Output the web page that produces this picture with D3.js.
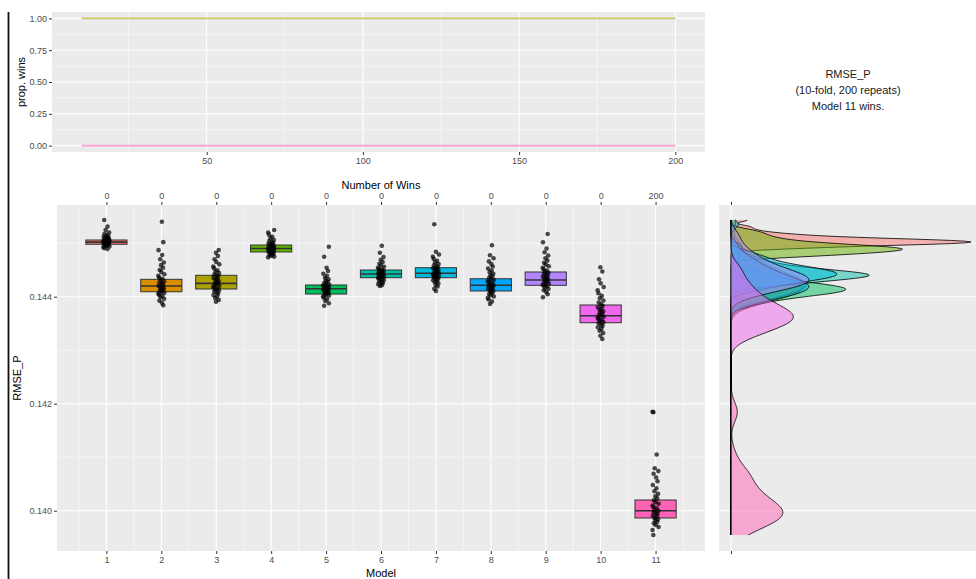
<!DOCTYPE html>
<html>
<head>
<meta charset="utf-8">
<script src="https://cdnjs.cloudflare.com/ajax/libs/d3/7.8.5/d3.min.js"></script>
<style>
body { margin: 0; background: #fff; }
svg { display: block; font-family: "Liberation Sans", Arial, sans-serif; }
</style>
</head>
<body>
<div id="chart"></div>
<script>
// ---- data ----
var models = [1, 2, 3, 4, 5, 6, 7, 8, 9, 10, 11];
var winCounts = [0, 0, 0, 0, 0, 0, 0, 0, 0, 0, 200];
var modelColors = ["#F8766D", "#DB8E00", "#AEA200", "#64B200", "#00BD5C", "#00C1A7",
                   "#00BADE", "#00A6FF", "#B385FF", "#EF67EB", "#FF63B6"];

// box stats (lower hinge, median, upper hinge)
var boxQ1  = [0.14498, 0.144093, 0.144144, 0.144836, 0.14405, 0.144355, 0.144355, 0.144107, 0.144213, 0.143514, 0.139864];
var boxMed = [0.14502, 0.1442, 0.14425, 0.144901, 0.14415, 0.144424, 0.144437, 0.144213, 0.144312, 0.143645, 0.140];
var boxQ3  = [0.14506, 0.144325, 0.1444, 0.144966, 0.144219, 0.144499, 0.144542, 0.144336, 0.144462, 0.143845, 0.1402];

// repeat-level RMSE_P values (estimated from the jittered points)
var rmse1 = [0.145434, 0.145310, 0.145245, 0.145198, 0.145170, 0.145152, 0.145131, 0.145118, 0.145102, 0.145094, 0.145083, 0.145076,
  0.145068, 0.145061, 0.145057, 0.145049, 0.145044, 0.145038, 0.145033, 0.145027, 0.145021, 0.145018, 0.145012, 0.145006,
  0.145001, 0.144996, 0.144991, 0.144985, 0.144979, 0.144972, 0.144963, 0.144951, 0.144940, 0.144926, 0.144908, 0.144893];
var rmse2 = [0.145400, 0.145020, 0.144870, 0.144780, 0.144700, 0.144640, 0.144590, 0.144540, 0.144500, 0.144460, 0.144420, 0.144390,
  0.144360, 0.144335, 0.144310, 0.144290, 0.144265, 0.144245, 0.144225, 0.144205, 0.144190, 0.144172, 0.144155, 0.144138,
  0.144120, 0.144105, 0.144090, 0.144072, 0.144055, 0.144035, 0.144012, 0.143990, 0.143960, 0.143925, 0.143885, 0.143840];
var rmse3 = [0.144873, 0.144820, 0.144760, 0.144700, 0.144650, 0.144605, 0.144565, 0.144530, 0.144495, 0.144465, 0.144440, 0.144415,
  0.144395, 0.144375, 0.144352, 0.144330, 0.144310, 0.144292, 0.144272, 0.144255, 0.144238, 0.144220, 0.144203, 0.144185,
  0.144168, 0.144150, 0.144135, 0.144118, 0.144098, 0.144078, 0.144055, 0.144030, 0.144005, 0.143975, 0.143940, 0.143907];
var rmse4 = [0.145247, 0.145200, 0.145160, 0.145120, 0.145090, 0.145060, 0.145038, 0.145018, 0.145000, 0.144985, 0.144972, 0.144962,
  0.144952, 0.144943, 0.144934, 0.144926, 0.144918, 0.144910, 0.144903, 0.144896, 0.144889, 0.144881, 0.144873, 0.144865,
  0.144858, 0.144850, 0.144842, 0.144834, 0.144825, 0.144815, 0.144804, 0.144792, 0.144778, 0.144764, 0.144750, 0.144736];
var rmse5 = [0.144935, 0.144748, 0.144540, 0.144480, 0.144430, 0.144390, 0.144355, 0.144325, 0.144300, 0.144280, 0.144260, 0.144242,
  0.144226, 0.144212, 0.144200, 0.144188, 0.144176, 0.144165, 0.144155, 0.144145, 0.144135, 0.144124, 0.144113, 0.144102,
  0.144090, 0.144078, 0.144065, 0.144052, 0.144038, 0.144022, 0.144004, 0.143982, 0.143955, 0.143920, 0.143878, 0.143832];
var rmse6 = [0.144953, 0.144822, 0.144740, 0.144690, 0.144650, 0.144615, 0.144585, 0.144560, 0.144540, 0.144522, 0.144506, 0.144492,
  0.144479, 0.144467, 0.144456, 0.144446, 0.144436, 0.144427, 0.144418, 0.144409, 0.144400, 0.144391, 0.144382, 0.144373,
  0.144364, 0.144355, 0.144345, 0.144334, 0.144322, 0.144308, 0.144292, 0.144274, 0.144255, 0.144235, 0.144215, 0.144200];
var rmse7 = [0.145353, 0.144841, 0.144790, 0.144745, 0.144705, 0.144670, 0.144640, 0.144612, 0.144588, 0.144566, 0.144548, 0.144532,
  0.144516, 0.144502, 0.144489, 0.144476, 0.144463, 0.144450, 0.144438, 0.144426, 0.144414, 0.144402, 0.144390, 0.144378,
  0.144366, 0.144354, 0.144340, 0.144325, 0.144308, 0.144290, 0.144270, 0.144247, 0.144220, 0.144190, 0.144150, 0.144107];
var rmse8 = [0.144961, 0.144774, 0.144720, 0.144660, 0.144610, 0.144565, 0.144525, 0.144490, 0.144458, 0.144428, 0.144400, 0.144375,
  0.144352, 0.144330, 0.144310, 0.144290, 0.144272, 0.144254, 0.144236, 0.144219, 0.144203, 0.144187, 0.144171, 0.144155,
  0.144139, 0.144123, 0.144106, 0.144088, 0.144070, 0.144050, 0.144028, 0.144004, 0.143978, 0.143948, 0.143910, 0.143864];
var rmse9 = [0.145172, 0.145017, 0.144900, 0.144830, 0.144770, 0.144720, 0.144675, 0.144635, 0.144600, 0.144568, 0.144540, 0.144514,
  0.144490, 0.144468, 0.144447, 0.144427, 0.144408, 0.144390, 0.144372, 0.144355, 0.144338, 0.144322, 0.144306, 0.144290,
  0.144274, 0.144258, 0.144242, 0.144225, 0.144208, 0.144190, 0.144170, 0.144147, 0.144120, 0.144088, 0.144045, 0.143989];
var rmse10 = [0.144550, 0.144470, 0.144325, 0.144250, 0.144180, 0.144120, 0.144065, 0.144015, 0.143970, 0.143930, 0.143893, 0.143860,
  0.143830, 0.143802, 0.143776, 0.143752, 0.143729, 0.143707, 0.143686, 0.143665, 0.143645, 0.143625, 0.143605, 0.143585,
  0.143565, 0.143545, 0.143524, 0.143502, 0.143479, 0.143455, 0.143428, 0.143398, 0.143364, 0.143322, 0.143270, 0.143209];
var rmse11 = [0.141849, 0.141840, 0.141052, 0.140793, 0.140740, 0.140690, 0.140620, 0.140550, 0.140480, 0.140420, 0.140365, 0.140315,
  0.140270, 0.140230, 0.140195, 0.140160, 0.140128, 0.140098, 0.140070, 0.140044, 0.140020, 0.139998, 0.139976, 0.139954,
  0.139932, 0.139910, 0.139888, 0.139865, 0.139842, 0.139818, 0.139792, 0.139764, 0.139732, 0.139696, 0.139640, 0.139546];
var rmseByModel = [rmse1, rmse2, rmse3, rmse4, rmse5, rmse6, rmse7, rmse8, rmse9, rmse10, rmse11];

// cumulative proportion of wins vs. number of repeats
var repeats = [10, 20, 30, 40, 50, 60, 70, 80, 90, 100, 110, 120, 130, 140, 150, 160, 170, 180, 190, 200];
var propWinner = [1, 1, 1, 1, 1, 1, 1, 1, 1, 1, 1, 1, 1, 1, 1, 1, 1, 1, 1, 1];
var propOthers = [0, 0, 0, 0, 0, 0, 0, 0, 0, 0, 0, 0, 0, 0, 0, 0, 0, 0, 0, 0];

var noteLines = ["RMSE_P", "(10-fold, 200 repeats)", "Model 11 wins."];

// horizontal jitter pattern (model units), cycled over the points
var jitter = [-0.04, 0.02, -0.015, 0.05, -0.035, 0.01, 0.035, -0.05, 0.015, -0.02, 0.045, -0.005, 0.03, -0.03, 0.0, 0.055, -0.055];

// ---- layout ----
var W = 976, H = 579;
var panelBg = "#EBEBEB";
var tickCol = "#333333", labCol = "#4D4D4D";

var svg = d3.select("#chart").append("svg")
    .attr("width", W)
    .attr("height", H);

// black rule at the left edge of the figure
svg.append("line")
    .attr("x1", 8.5).attr("x2", 8.5)
    .attr("y1", 12).attr("y2", H)
    .attr("stroke", "#111").attr("stroke-width", 1.8);

function styleAxis(g) {
  g.select(".domain").remove();
  g.selectAll(".tick line").attr("stroke", tickCol).attr("stroke-width", 1);
  g.selectAll(".tick text").attr("fill", labCol).style("font-size", "9px");
}

// ---- top panel: proportion of wins ----
var xt = d3.scaleLinear().domain([0.5, 209.5]).range([52, 705]);
var yt = d3.scaleLinear().domain([-0.05, 1.05]).range([152, 12]);

var winsPanel = svg.append("g").attr("id", "wins_panel");
winsPanel.append("rect")
    .attr("x", 52).attr("y", 12)
    .attr("width", 705 - 52).attr("height", 140)
    .attr("fill", panelBg);

[25, 75, 125, 175].forEach(function(v) {
  winsPanel.append("line").attr("x1", xt(v)).attr("x2", xt(v)).attr("y1", 12).attr("y2", 152)
     .attr("stroke", "#fff").attr("stroke-width", 0.5);
});
[0.125, 0.375, 0.625, 0.875].forEach(function(v) {
  winsPanel.append("line").attr("x1", 52).attr("x2", 705).attr("y1", yt(v)).attr("y2", yt(v))
     .attr("stroke", "#fff").attr("stroke-width", 0.5);
});
[50, 100, 150, 200].forEach(function(v) {
  winsPanel.append("line").attr("x1", xt(v)).attr("x2", xt(v)).attr("y1", 12).attr("y2", 152)
     .attr("stroke", "#fff").attr("stroke-width", 1.1);
});
[0, 0.25, 0.5, 0.75, 1].forEach(function(v) {
  winsPanel.append("line").attr("x1", 52).attr("x2", 705).attr("y1", yt(v)).attr("y2", yt(v))
     .attr("stroke", "#fff").attr("stroke-width", 1.1);
});

var winLine = d3.line()
    .x(function(d) { return xt(d[0]); })
    .y(function(d) { return yt(d[1]); });

winsPanel.append("path")
    .datum(d3.zip(repeats, propOthers))
    .attr("d", winLine)
    .attr("fill", "none").attr("stroke", "#FF63B6").attr("stroke-opacity", 0.6).attr("stroke-width", 1.6);
winsPanel.append("path")
    .datum(d3.zip(repeats, propWinner))
    .attr("d", winLine)
    .attr("fill", "none").attr("stroke", "#AEA200").attr("stroke-opacity", 0.6).attr("stroke-width", 1.6);

winsPanel.append("g")
    .attr("transform", "translate(0,152)")
    .call(d3.axisBottom(xt).tickValues([50, 100, 150, 200]).tickSize(3).tickPadding(3))
    .call(styleAxis);
winsPanel.append("g")
    .attr("transform", "translate(52,0)")
    .call(d3.axisLeft(yt).tickValues([0, 0.25, 0.5, 0.75, 1]).tickFormat(d3.format(".2f")).tickSize(3).tickPadding(2))
    .call(styleAxis);

winsPanel.append("text")
    .attr("transform", "translate(25,82) rotate(-90)")
    .attr("text-anchor", "middle")
    .style("font-size", "11px")
    .attr("fill", "#000")
    .text("prop. wins");

// note in the top right corner
svg.append("g").attr("id", "note")
  .selectAll("text")
  .data(noteLines)
  .enter()
  .append("text")
    .attr("x", 848)
    .attr("y", function(d, i) { return 78 + i * 16; })
    .attr("text-anchor", "middle")
    .style("font-size", "11px")
    .attr("fill", "#1a1a1a")
    .text(function(d) { return d; });

// ---- main panel: box plots ----
var x = d3.scaleLinear().domain([0.1, 11.9]).range([57, 705]);
var y = d3.scaleLinear().domain([0.139247, 0.145714]).range([551, 205]);

var main = svg.append("g").attr("id", "box_panel");
main.append("rect")
    .attr("x", 57).attr("y", 205)
    .attr("width", 705 - 57).attr("height", 551 - 205)
    .attr("fill", panelBg);

models.forEach(function(m) {
  main.append("line").attr("x1", x(m - 0.5)).attr("x2", x(m - 0.5)).attr("y1", 205).attr("y2", 551)
      .attr("stroke", "#fff").attr("stroke-width", 0.5);
});
main.append("line").attr("x1", x(11.5)).attr("x2", x(11.5)).attr("y1", 205).attr("y2", 551)
    .attr("stroke", "#fff").attr("stroke-width", 0.5);
[0.141, 0.143, 0.145].forEach(function(v) {
  main.append("line").attr("x1", 57).attr("x2", 705).attr("y1", y(v)).attr("y2", y(v))
      .attr("stroke", "#fff").attr("stroke-width", 0.5);
});
models.forEach(function(m) {
  main.append("line").attr("x1", x(m)).attr("x2", x(m)).attr("y1", 205).attr("y2", 551)
      .attr("stroke", "#fff").attr("stroke-width", 1.1);
});
[0.140, 0.142, 0.144].forEach(function(v) {
  main.append("line").attr("x1", 57).attr("x2", 705).attr("y1", y(v)).attr("y2", y(v))
      .attr("stroke", "#fff").attr("stroke-width", 1.1);
});

var boxW = 0.75;
var boxes = main.append("g").selectAll("g")
    .data(models)
    .enter()
    .append("g");

boxes.append("rect")
    .attr("x", function(m) { return x(m - boxW / 2); })
    .attr("width", function(m) { return x(m + boxW / 2) - x(m - boxW / 2); })
    .attr("y", function(m, i) { return y(boxQ3[i]); })
    .attr("height", function(m, i) { return y(boxQ1[i]) - y(boxQ3[i]); })
    .attr("fill", function(m, i) { return modelColors[i]; })
    .attr("stroke", "#333").attr("stroke-width", 1);

boxes.append("line")
    .attr("x1", function(m) { return x(m - boxW / 2); })
    .attr("x2", function(m) { return x(m + boxW / 2); })
    .attr("y1", function(m, i) { return y(boxMed[i]); })
    .attr("y2", function(m, i) { return y(boxMed[i]); })
    .attr("stroke", "#333").attr("stroke-width", 1.6);

// jittered points
var pts = [];
rmseByModel.forEach(function(vals, i) {
  vals.forEach(function(v, j) {
    pts.push({ model: models[i], value: v, dx: jitter[(j + i * 5) % jitter.length] });
  });
});

main.append("g").selectAll("circle")
    .data(pts)
    .enter()
    .append("circle")
    .attr("cx", function(d) { return x(d.model + d.dx); })
    .attr("cy", function(d) { return y(d.value); })
    .attr("r", 2.3)
    .attr("fill", "#000")
    .attr("fill-opacity", 0.7);

main.append("g")
    .attr("transform", "translate(0,551)")
    .call(d3.axisBottom(x).tickValues(models).tickFormat(d3.format("d")).tickSize(3).tickPadding(3))
    .call(styleAxis);
main.append("g")
    .attr("transform", "translate(0,205)")
    .call(d3.axisTop(x).tickValues(models).tickFormat(function(d, i) { return winCounts[i]; }).tickSize(3).tickPadding(3))
    .call(styleAxis);
main.append("g")
    .attr("transform", "translate(57,0)")
    .call(d3.axisLeft(y).tickValues([0.140, 0.142, 0.144]).tickFormat(d3.format(".3f")).tickSize(3).tickPadding(2))
    .call(styleAxis);

main.append("text")
    .attr("x", 381).attr("y", 577)
    .attr("text-anchor", "middle")
    .style("font-size", "11px")
    .text("Model");
main.append("text")
    .attr("x", 381).attr("y", 189)
    .attr("text-anchor", "middle")
    .style("font-size", "11px")
    .text("Number of Wins");
main.append("text")
    .attr("transform", "translate(21,378) rotate(-90)")
    .attr("text-anchor", "middle")
    .style("font-size", "11px")
    .text("RMSE_P");

// ---- side panel: densities of RMSE_P per model ----
function kde(sample, grid) {
  var s = sample.slice().sort(d3.ascending);
  var iqr = d3.quantile(s, 0.75) - d3.quantile(s, 0.25);
  var bw = 0.9 * Math.min(d3.deviation(s), iqr / 1.34) * Math.pow(s.length, -0.2);
  var k = 1 / (s.length * bw * Math.sqrt(2 * Math.PI));
  return grid.map(function(v) {
    var sum = d3.sum(s, function(p) { var z = (v - p) / bw; return Math.exp(-0.5 * z * z); });
    return [v, sum * k];
  });
}

var allVals = d3.merge(rmseByModel);
var ext = d3.extent(allVals);
var grid = d3.range(0, 401).map(function(i) { return ext[0] + (ext[1] - ext[0]) * i / 400; });
var dens = rmseByModel.map(function(vals) { return kde(vals, grid); });
var maxD = d3.max(dens, function(d) { return d3.max(d, function(p) { return p[1]; }); });

var xd = d3.scaleLinear().domain([0, maxD]).range([731, 971]);

var side = svg.append("g").attr("id", "density_panel");
side.append("rect")
    .attr("x", 719).attr("y", 205)
    .attr("width", W - 719).attr("height", 551 - 205)
    .attr("fill", panelBg);
[0.141, 0.143, 0.145].forEach(function(v) {
  side.append("line").attr("x1", 719).attr("x2", W).attr("y1", y(v)).attr("y2", y(v))
      .attr("stroke", "#fff").attr("stroke-width", 0.5);
});
[0.140, 0.142, 0.144].forEach(function(v) {
  side.append("line").attr("x1", 719).attr("x2", W).attr("y1", y(v)).attr("y2", y(v))
      .attr("stroke", "#fff").attr("stroke-width", 1.1);
});
side.append("line").attr("x1", xd(0)).attr("x2", xd(0)).attr("y1", 205).attr("y2", 551)
    .attr("stroke", "#fff").attr("stroke-width", 1.1);

var densArea = d3.area()
    .y(function(d) { return y(d[0]); })
    .x0(xd(0))
    .x1(function(d) { return xd(d[1]); });
var densLine = d3.line()
    .y(function(d) { return y(d[0]); })
    .x(function(d) { return xd(d[1]); });

dens.forEach(function(d, i) {
  side.append("path")
      .datum(d)
      .attr("d", densArea)
      .attr("fill", modelColors[i])
      .attr("fill-opacity", 0.5);
  side.append("path")
      .datum(d)
      .attr("d", densLine)
      .attr("fill", "none")
      .attr("stroke", "#000")
      .attr("stroke-width", 0.8);
});

side.append("g")
    .attr("transform", "translate(0,205)")
    .call(d3.axisTop(xd).tickValues([0]).tickFormat("").tickSize(3))
    .call(styleAxis);
side.append("g")
    .attr("transform", "translate(0,551)")
    .call(d3.axisBottom(xd).tickValues([0]).tickFormat("").tickSize(3))
    .call(styleAxis);
</script>
</body>
</html>
